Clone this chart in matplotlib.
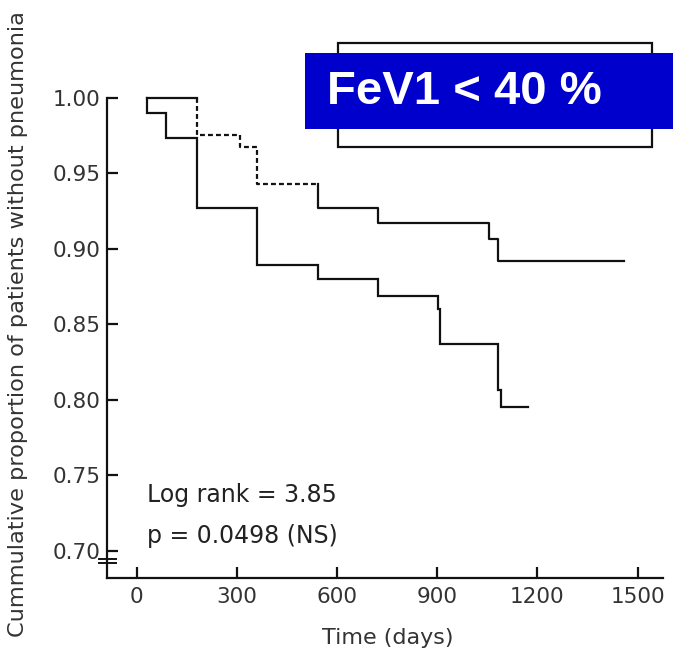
import matplotlib
matplotlib.use("Agg")
import matplotlib.pyplot as plt
from matplotlib.patches import Rectangle

# Kaplan-Meier curves (days, survival after each step)
lower_start = 30
lower_days = [30, 87, 180, 360, 544, 722, 903, 908, 1083, 1090]
lower_surv = [0.9895, 0.973, 0.9266, 0.889, 0.880, 0.8687, 0.860, 0.8366, 0.806, 0.795]
lower_end = 1171

upper_start = 30
upper_days = [180, 309, 360, 544, 722, 1055, 1083]
upper_surv = [0.975, 0.967, 0.9425, 0.9266, 0.917, 0.906, 0.892]
upper_end = 1459
upper_dash_from, upper_dash_to = 180, 544  # part of upper curve printed dashed

x_ticks = [0, 300, 600, 900, 1200, 1500]
y_ticks = [0.70, 0.75, 0.80, 0.85, 0.90, 0.95, 1.00]

stats_lines = ["Log rank = 3.85", "p = 0.0498 (NS)"]
banner = "FeV1 < 40 %"


def km_path(start, days, surv, end):
    xs, ys = [start], [1.0]
    level = 1.0
    for d, s in zip(days, surv):
        xs += [d, d]
        ys += [level, s]
        level = s
    xs.append(end)
    ys.append(level)
    return xs, ys


fig = plt.figure(figsize=(6.73, 6.58), dpi=100)
ax = fig.add_axes([0.1594, 0.1220, 0.8253, 0.7412])

lw = 1.6
col = "#111111"

xs, ys = km_path(lower_start, lower_days, lower_surv, lower_end)
ax.plot(xs, ys, color=col, lw=lw, solid_joinstyle="miter", clip_on=False)

xs, ys = km_path(upper_start, upper_days, upper_surv, upper_end)
i0 = xs.index(upper_dash_from)
i1 = xs.index(upper_dash_to)
ax.plot(xs[:i0 + 1], ys[:i0 + 1], color=col, lw=lw, clip_on=False)
ax.plot(xs[i0:i1 + 1], ys[i0:i1 + 1], color=col, lw=lw, dashes=(2.2, 1.4), clip_on=False)
ax.plot(xs[i1:], ys[i1:], color=col, lw=lw, clip_on=False)

ax.set_xlim(-88, 1575)
ax.set_ylim(0.682, 1.005)
ax.set_xticks(x_ticks)
ax.set_yticks(y_ticks)
ax.set_yticklabels([f"{v:.2f}" for v in y_ticks])

for side in ["top", "right"]:
    ax.spines[side].set_visible(False)
for side in ["left", "bottom"]:
    ax.spines[side].set_linewidth(1.6)
    ax.spines[side].set_color(col)
ax.spines["left"].set_bounds(0.682, 1.0)

ax.tick_params(axis="both", direction="in", length=8, width=1.6, color=col,
               labelsize=15.5, labelcolor="#333333")
ax.tick_params(axis="y", pad=5)
ax.tick_params(axis="x", pad=7)

# axis break marks on the y axis
for yb in [0.0383, 0.0301]:
    ax.plot([-0.015, 0.0157], [yb, yb], transform=ax.transAxes, color=col,
            lw=1.4, clip_on=False)

ax.set_xlabel("Time (days)", fontsize=16, color="#333333")
ax.xaxis.set_label_coords(0.505, -0.103)
ax.set_ylabel("Cummulative proportion of patients without pneumonia",
              fontsize=16.2, color="#333333")
ax.yaxis.set_label_coords(-0.143, 0.52)

ax.text(0.071, 0.170, stats_lines[0], transform=ax.transAxes, fontsize=17,
        va="center", ha="left", color="#222222")
ax.text(0.071, 0.086, stats_lines[1], transform=ax.transAxes, fontsize=17,
        va="center", ha="left", color="#222222")

# leftover legend frame and the blue banner on top of it
fig.patches.append(Rectangle((0.5027, 0.7771), 0.4666, 0.1571, transform=fig.transFigure,
                             facecolor="white", edgecolor=col, lw=1.6, zorder=5))
fig.patches.append(Rectangle((0.4532, 0.8035), 0.5468, 0.1155, transform=fig.transFigure,
                             facecolor="#0000CC", edgecolor="none", zorder=6))
fig.text(0.4854, 0.8597, banner, fontsize=34, fontweight="bold", color="white",
         family="Liberation Sans", va="center", ha="left", zorder=7)

fig.savefig("out.png", dpi=100)
